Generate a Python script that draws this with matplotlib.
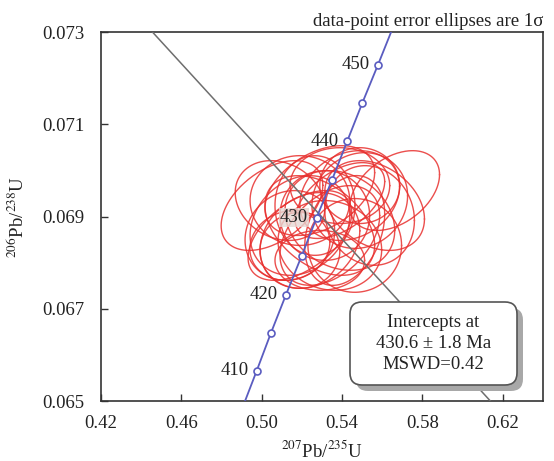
import numpy as np
import matplotlib
matplotlib.use("Agg")
import matplotlib.pyplot as plt
from matplotlib.patches import FancyBboxPatch
from matplotlib.transforms import IdentityTransform

plt.rcParams['font.family'] = ['Liberation Serif', 'DejaVu Serif']
plt.rcParams['mathtext.fontset'] = 'stix'

# ---- data ----
ages = [410, 415, 420, 425, 430, 435, 440, 445, 450]
conc_x = [0.4975, 0.5046, 0.5121, 0.5199, 0.5273, 0.5350, 0.5425, 0.5501, 0.5579]
conc_y = [0.065655, 0.066477, 0.067307, 0.068150, 0.068972, 0.069794, 0.070628, 0.071465, 0.072293]
labelled_ages = [410, 420, 430, 440, 450]
curve_ends_x = [0.4917, 0.5644]
curve_ends_y = [0.065, 0.073]

disc_x = [0.4456, 0.6138]
disc_y = [0.073, 0.065]

e_x = [0.5051, 0.5662, 0.5438, 0.5488, 0.5289, 0.5190, 0.5389, 0.5240, 0.5339, 0.5463, 0.5140,
       0.5190, 0.5389, 0.5314, 0.5537, 0.5091, 0.5265, 0.5413, 0.5190, 0.5488, 0.5339, 0.5289,
       0.5190, 0.5140, 0.5389, 0.5562, 0.5289]
e_y = [0.069238, 0.069562, 0.069454, 0.069346, 0.069562, 0.069346, 0.068914, 0.068481, 0.068373,
       0.068373, 0.068589, 0.068265, 0.069346, 0.069022, 0.069022, 0.069346, 0.069238, 0.068697,
       0.068805, 0.069670, 0.068589, 0.068805, 0.068589, 0.068373, 0.069670, 0.069238, 0.068049]
e_sx = [0.0253, 0.0223, 0.0248, 0.0238, 0.0273, 0.0248, 0.0273, 0.0248, 0.0258, 0.0233, 0.0223,
        0.0199, 0.0223, 0.0223, 0.0223, 0.0223, 0.0199, 0.0199, 0.0248, 0.0199, 0.0248, 0.0273,
        0.0258, 0.0199, 0.0248, 0.0248, 0.0223]
e_sy = [0.000973, 0.000865, 0.000973, 0.001038, 0.000973, 0.000973, 0.00108, 0.001038, 0.000973,
        0.001016, 0.000973, 0.000822, 0.000822, 0.000973, 0.00108, 0.000865, 0.00108, 0.00119,
        0.00108, 0.000822, 0.00108, 0.00108, 0.000973, 0.000757, 0.000822, 0.000973, 0.000649]
e_rho = [0.45, 0.4, 0.2, 0.1, 0.4, 0.0, -0.2, 0.2, -0.1, 0.0, 0.1, 0.0, 0.5, 0.0, -0.1, -0.2,
         0.0, 0.3, 0.2, 0.0, 0.4, -0.4, 0.5, 0.1, 0.0, -0.3, 0.0]

x_ticks = [0.42, 0.46, 0.50, 0.54, 0.58, 0.62]
x_ticklabels = ['0.42', '0.46', '0.50', '0.54', '0.58', '0.62']
y_ticks = [0.065, 0.067, 0.069, 0.071, 0.073]
y_ticklabels = ['0.065', '0.067', '0.069', '0.071', '0.073']

FS = 13.5

# ---- figure ----
fig = plt.figure(figsize=(5.54, 4.61), dpi=100)
ax = fig.add_axes([101/554, 60/461, 442/554, 369/461])
ax.set_xlim(0.42, 0.64)
ax.set_ylim(0.065, 0.073)

# ellipses
t = np.linspace(0, 2*np.pi, 200)
for cx, cy, sx, sy, r in zip(e_x, e_y, e_sx, e_sy, e_rho):
    ex = cx + sx*np.cos(t)
    ey = cy + sy*(r*np.cos(t) + np.sqrt(1-r*r)*np.sin(t))
    ax.plot(ex, ey, color='#e8302e', lw=1.0, zorder=2, alpha=0.85)

# discordia
ax.plot(disc_x, disc_y, color='#6e6e6e', lw=1.1, zorder=3)

# concordia
cx_all = [curve_ends_x[0]] + conc_x + [curve_ends_x[1]]
cy_all = [curve_ends_y[0]] + conc_y + [curve_ends_y[1]]
ax.plot(cx_all, cy_all, color='#5a5cc0', lw=1.3, zorder=4)
ax.plot(conc_x, conc_y, 'o', ms=5, mfc='white', mec='#5a5cc0', mew=1.2, zorder=5)
for a, x, y in zip(ages, conc_x, conc_y):
    if a in labelled_ages:
        kw = {}
        if a == 430:
            kw['bbox'] = dict(boxstyle='square,pad=0.05', fc='#e6d8d4', ec='none', alpha=0.8)
        ax.annotate(str(a), (x, y), xytext=(-6, 0), textcoords='offset points',
                    ha='right', va='center', fontsize=FS, color='#222222', zorder=6, **kw)

ax.set_xticks(x_ticks)
ax.set_xticklabels(x_ticklabels)
ax.set_yticks(y_ticks)
ax.set_yticklabels(y_ticklabels)
ax.tick_params(axis='both', direction='in', length=5, width=1, colors='#333333',
               labelsize=FS, labelcolor='#222222')
ax.tick_params(axis='x', pad=10)
ax.tick_params(axis='y', pad=12)
for s in ax.spines.values():
    s.set_color('#333333')
    s.set_linewidth(1.2)

ax.set_xlabel(r'$^{207}$Pb/$^{235}$U', fontsize=FS, color='#222222', labelpad=6)
ax.set_ylabel(r'$^{206}$Pb/$^{238}$U', fontsize=FS, color='#222222', labelpad=10)

fig.text(543/554, 1 - 26/461, 'data-point error ellipses are 1σ', ha='right', va='baseline',
         fontsize=FS, color='#222222')

# result box with shadow (pixel coordinates)
H = 461
bx0, by0, bw, bh = 350, H - 385, 167, 83
shadow = FancyBboxPatch((bx0 + 6, by0 - 6), bw, bh, boxstyle='round,pad=0,rounding_size=12',
                        transform=IdentityTransform(), fc='#a8a8a8', ec='none', zorder=7)
box = FancyBboxPatch((bx0, by0), bw, bh, boxstyle='round,pad=0,rounding_size=12',
                     transform=IdentityTransform(), fc='white', ec='#555555', lw=1.2, zorder=8)
fig.patches.extend([shadow, box])
fig.text((bx0 + bw/2)/554, (by0 + bh/2)/H, 'Intercepts at\n430.6 ± 1.8 Ma\nMSWD=0.42',
         ha='center', va='center', fontsize=FS, linespacing=1.3, color='#222222', zorder=9)

fig.savefig('out.png', dpi=100)
